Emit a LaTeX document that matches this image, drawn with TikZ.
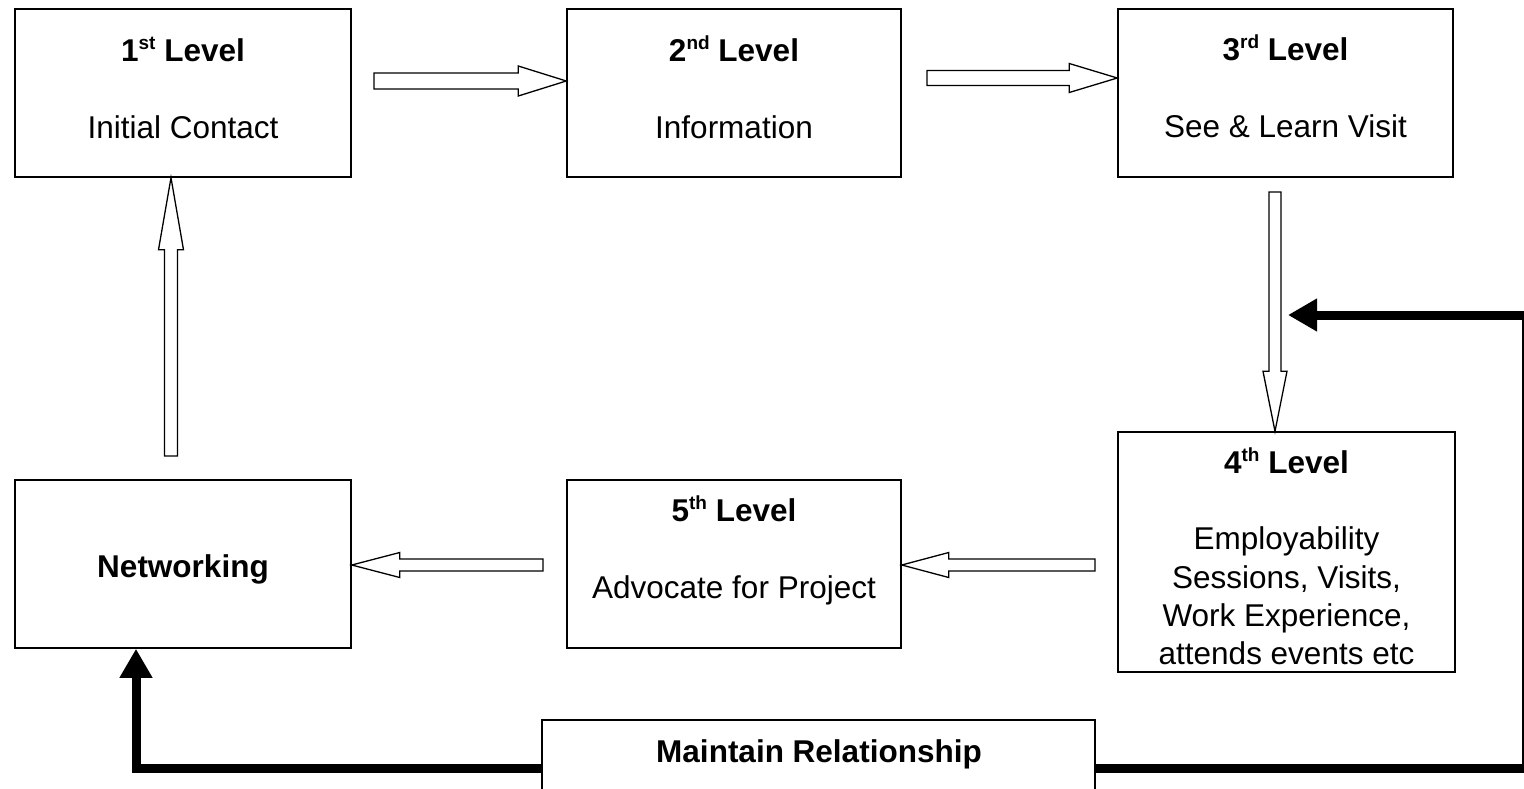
\documentclass[tikz,border=0pt]{standalone}
\usepackage{fontspec}
\setmainfont{Liberation Sans}
\usetikzlibrary{calc,arrows.meta}
\newcommand\levsup[1]{\raisebox{.36em}{\fontsize{19}{19}\selectfont #1}}
\newcommand\blkarrow[5]{%
  \draw[blockar] let \p1=#1, \p2=#2,
    \n1={atan2(\y2-\y1,\x2-\x1)}, \n2={veclen(\x2-\x1,\y2-\y1)} in
    [shift={(\p1)}, rotate=\n1]
    (0,-#3) -- (\n2-#5,-#3) -- (\n2-#5,-#4) -- (\n2,0) -- (\n2-#5,#4)
    -- (\n2-#5,#3) -- (0,#3) -- cycle;}
\begin{document}
\begin{tikzpicture}[x=1pt,y=-1pt,
  box/.style={draw, line width=1.5pt, fill=white, inner sep=0pt, rectangle},
  txt/.style={inner sep=0pt, anchor=base, font=\fontsize{31.5}{38}\selectfont},
  btxt/.style={txt, font=\fontsize{31.5}{38}\selectfont\bfseries},
  blockar/.style={draw, fill=white, line width=1.3pt, line join=miter},
  thickar/.style={line width=9pt, line join=miter, -{Triangle[length=29pt,width=31pt]}}]
\useasboundingbox (0,0) rectangle (1524,788);
% boxes
\node[box, minimum width=336pt, minimum height=168pt] (b1) at (183,93) {};
\node[box, minimum width=334pt, minimum height=168pt] (b2) at (734,93) {};
\node[box, minimum width=335pt, minimum height=168pt] (b3) at (1285.5,93) {};
\node[box, minimum width=337pt, minimum height=240pt] (b4) at (1286.5,552) {};
\node[box, minimum width=334pt, minimum height=168pt] (b5) at (734,564) {};
\node[box, minimum width=336pt, minimum height=168pt] (bN) at (183,564) {};
% thick connectors (drawn before the bottom box)
\coordinate (cl) at (136,768);
\coordinate (cr) at (1526,768);
\coordinate (ct) at (1526,315);
\coordinate (tipR) at (1288,315);
\draw[thickar] (818,768) -- (cl) -- (cl |- bN.south);
\draw[thickar] (818,768) -- (cr) -- (ct) -- (tipR);
\node[box, minimum width=553pt, minimum height=120pt] (bM) at (818.5,780) {};
% texts
\node[btxt] (t1) at (183,61) {1\levsup{st} Level};
\node[txt] (d1) at (183,138) {Initial Contact};
\node[btxt] (t2) at (734,61) {2\levsup{nd} Level};
\node[txt] (d2) at (734,138) {Information};
\node[btxt] (t3) at (1285.5,60) {3\levsup{rd} Level};
\node[txt] (d3) at (1285.5,137) {See \& Learn Visit};
\node[btxt] (t4) at (1286.5,473) {4\levsup{th} Level};
\node[txt] (d4a) at (1286.5,549) {Employability};
\node[txt] (d4b) at (1286.5,588) {Sessions, Visits,};
\node[txt] (d4c) at (1286.5,626) {Work Experience,};
\node[txt] (d4d) at (1286.5,664) {attends events etc};
\node[btxt] (t5) at (734,521) {5\levsup{th} Level};
\node[txt] (d5) at (734,598) {Advocate for Project};
\node[btxt] (tN) at (183,577) {Networking};
\node[btxt] (tM) at (819,762) {Maintain Relationship};
% block arrows
\coordinate (s12) at (374,81);
\coordinate (s23) at (927,78);
\coordinate (s34) at (1275,192);
\coordinate (s45) at (1095,565);
\coordinate (s5N) at (543,565);
\coordinate (sN1) at (171,456);
\blkarrow{(s12)}{(b2.west |- s12)}{8}{15}{48}
\blkarrow{(s23)}{(b3.west |- s23)}{7.5}{14.5}{48}
\blkarrow{(s34)}{(s34 |- b4.north)}{6}{12}{60}
\blkarrow{(s45)}{(b5.east |- s45)}{6}{12.5}{47}
\blkarrow{(s5N)}{(bN.east |- s5N)}{6}{12.5}{48}
\blkarrow{(sN1)}{(sN1 |- b1.south)}{6.5}{12.5}{72}
\end{tikzpicture}
\end{document}
